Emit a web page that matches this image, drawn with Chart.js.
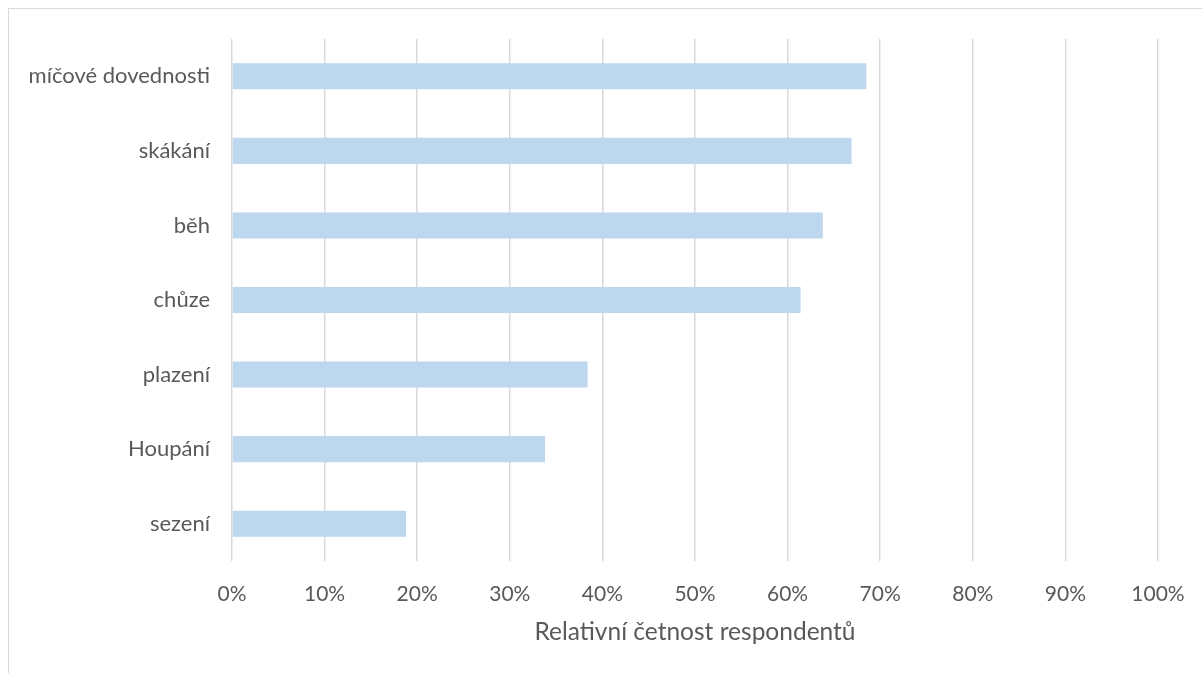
<!DOCTYPE html>
<html>
<head>
<meta charset="utf-8">
<script src="https://cdn.jsdelivr.net/npm/chart.js@4.4.1/dist/chart.umd.min.js"></script>
<style>
  html, body { margin: 0; padding: 0; background: #fff; overflow: hidden; }
  #wrap { position: absolute; left: 0; top: 0; width: 1202px; height: 673px; }
  #frame { position: absolute; left: 8px; top: 8px; width: 1210px; height: 700px; border: 1px solid #d9d9d9; box-sizing: border-box; }
  canvas { position: absolute; left: 0; top: 0; }
</style>
</head>
<body>
<div id="wrap">
  <div id="frame"></div>
  <canvas id="c" width="1202" height="673"></canvas>
</div>
<script>
const categories = ["míčové dovednosti", "skákání", "běh", "chůze", "plazení", "Houpání", "sezení"];
const values = [68.5, 66.9, 63.8, 61.4, 38.4, 33.8, 18.8];
const tickValues = [0, 10, 20, 30, 40, 50, 60, 70, 80, 90, 100];
const axisTitle = "Relativní četnost respondentů";

const FONT = "Lato, 'Open Sans', sans-serif";
const TXT = "#595959";

new Chart(document.getElementById('c'), {
  type: 'bar',
  data: {
    labels: categories,
    datasets: [{
      data: values,
      backgroundColor: '#bdd7ee',
      borderWidth: 0,
      categoryPercentage: 0.35,
      barPercentage: 1.0
    }]
  },
  options: {
    indexAxis: 'y',
    responsive: false,
    animation: false,
    devicePixelRatio: 1,
    layout: { padding: { top: 39, right: 44, left: 0, bottom: 0 } },
    plugins: { legend: { display: false }, tooltip: { enabled: false } },
    scales: {
      x: {
        min: 0, max: 100,
        afterBuildTicks: (s) => { s.ticks = tickValues.map(v => ({ value: v })); },
        afterFit: (s) => { s.height = 112; s.paddingLeft = 0; s.paddingRight = 0; },
        border: { display: false },
        grid: { color: '#d9d9d9', lineWidth: 1.5, drawTicks: false },
        ticks: {
          padding: 21,
          color: TXT,
          font: { family: FONT, size: 21 },
          callback: (v) => v + '%'
        },
        title: {
          display: true,
          text: axisTitle,
          color: TXT,
          font: { family: FONT, size: 24.5 },
          padding: { top: 0, bottom: 26 }
        }
      },
      y: {
        afterFit: (s) => { s.width = 232; },
        border: { display: false },
        grid: { display: false, drawTicks: false },
        ticks: {
          padding: 22,
          color: TXT,
          font: { family: FONT, size: 22 }
        }
      }
    }
  }
});
</script>
</body>
</html>
